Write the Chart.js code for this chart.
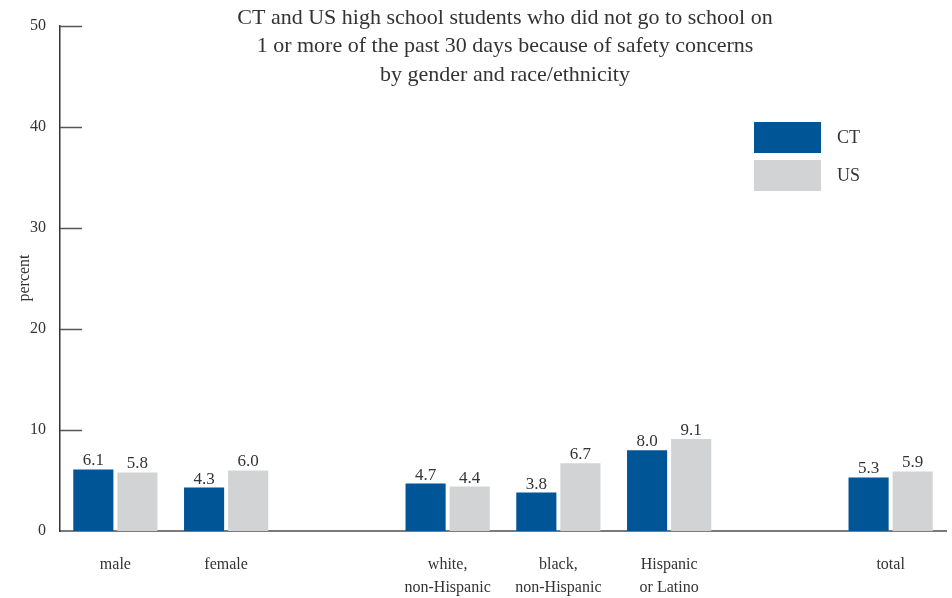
<!DOCTYPE html>
<html>
<head>
<meta charset="utf-8">
<script src="https://cdn.jsdelivr.net/npm/chart.js@4.4.1/dist/chart.umd.min.js"></script>
<style>
  html, body { margin: 0; padding: 0; background: #fff; }
  #wrap { width: 952px; height: 598px; position: relative; }
</style>
</head>
<body>
<div id="wrap"><canvas id="chart"></canvas></div>
<script>
// Data
const categories = [
    ['male'], ['female'], [''],
    ['white,', 'non-Hispanic'], ['black,', 'non-Hispanic'], ['Hispanic', 'or Latino'],
    [''], ['total']
];
const ctValues = [6.1, 4.3, null, 4.7, 3.8, 8.0, null, 5.3];
const usValues = [5.8, 6.0, null, 4.4, 6.7, 9.1, null, 5.9];
const yTicks = [0, 10, 20, 30, 40, 50];
const titleLines = [
    'CT and US high school students who did not go to school on',
    '1 or more of the past 30 days because of safety concerns',
    'by gender and race/ethnicity'
];

const FONT = "'Liberation Serif', 'DejaVu Serif', serif";
const TEXT = '#333333';
const CT_COLOR = '#005596';
const US_COLOR = '#d1d3d4';

// Title, y label, inward tick marks, value labels, legend
const decorations = {
    id: 'decorations',
    afterDraw(chart) {
        const ctx = chart.ctx;
        const area = chart.chartArea;
        const y = chart.scales.y;
        ctx.save();

        // inward tick marks
        ctx.strokeStyle = '#555';
        ctx.lineWidth = 1.5;
        yTicks.forEach(v => {
            if (v === 0) return;
            const py = Math.round(y.getPixelForValue(v)) + 0.5;
            ctx.beginPath();
            ctx.moveTo(area.left, py);
            ctx.lineTo(area.left + 22, py);
            ctx.stroke();
        });

        // title
        ctx.fillStyle = TEXT;
        ctx.font = '22px ' + FONT;
        ctx.textAlign = 'center';
        ctx.textBaseline = 'middle';
        titleLines.forEach((line, i) => ctx.fillText(line, 505, 18 + i * 28.5));

        // y label
        ctx.font = '16px ' + FONT;
        ctx.translate(25, 278);
        ctx.rotate(-Math.PI / 2);
        ctx.fillText('percent', 0, 0);
        ctx.setTransform(1, 0, 0, 1, 0, 0);

        // value labels
        ctx.font = '17px ' + FONT;
        ctx.textBaseline = 'alphabetic';
        chart.data.datasets.forEach((ds, di) => {
            chart.getDatasetMeta(di).data.forEach((bar, i) => {
                const v = ds.data[i];
                if (v === null) return;
                ctx.fillText(v.toFixed(1), bar.x, bar.y - 4);
            });
        });

        // legend
        ctx.textAlign = 'left';
        ctx.textBaseline = 'middle';
        ctx.font = '18px ' + FONT;
        chart.data.datasets.forEach((ds, di) => {
            const top = 122 + di * 38;
            ctx.fillStyle = ds.backgroundColor;
            ctx.fillRect(754, top, 67, 31);
            ctx.fillStyle = TEXT;
            ctx.fillText(ds.label, 837, top + 16);
        });

        ctx.restore();
    }
};

new Chart(document.getElementById('chart'), {
    type: 'bar',
    data: {
        labels: categories,
        datasets: [
            { label: 'CT', data: ctValues, backgroundColor: CT_COLOR },
            { label: 'US', data: usValues, backgroundColor: US_COLOR }
        ]
    },
    options: {
        responsive: true,
        maintainAspectRatio: false,
        animation: false,
        events: [],
        layout: { padding: { top: 26, right: 6, left: 0, bottom: 0 } },
        datasets: {
            bar: { categoryPercentage: 0.796, barPercentage: 0.91 }
        },
        plugins: {
            legend: { display: false },
            title: { display: false },
            tooltip: { enabled: false }
        },
        scales: {
            x: {
                grid: { display: false, drawTicks: false },
                border: { color: '#7a7a7a', width: 2 },
                ticks: {
                    color: TEXT,
                    font: { family: FONT, size: 16, lineHeight: 1.4 },
                    padding: 23,
                    maxRotation: 0,
                    autoSkip: false
                },
                afterFit(scale) { scale.height = 67; }
            },
            y: {
                min: 0,
                max: 50,
                afterBuildTicks(scale) { scale.ticks = yTicks.map(v => ({ value: v })); },
                grid: { display: false, drawTicks: false },
                border: { color: '#333', width: 1.5 },
                ticks: {
                    color: TEXT,
                    font: { family: FONT, size: 16 },
                    padding: 14
                },
                afterFit(scale) { scale.width = 60; }
            }
        }
    },
    plugins: [decorations]
});
</script>
</body>
</html>
